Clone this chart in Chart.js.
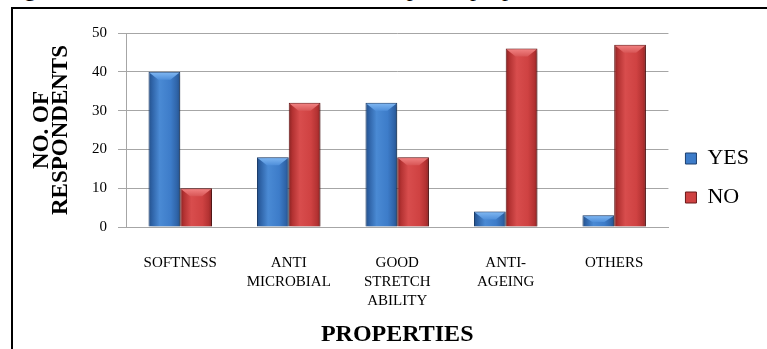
<!DOCTYPE html>
<html lang="en">
<head>
<meta charset="UTF-8">
<title>Properties - No. of respondents</title>
<script src="https://cdn.jsdelivr.net/npm/chart.js@4"></script>
<style>
  html, body { margin: 0; padding: 0; background: #fff; overflow: hidden; }
  .page { position: relative; width: 767px; height: 349px; overflow: hidden; }
  .caption {
    position: absolute; left: 4px; top: -25px;
    font: 24px/26px 'Liberation Serif', 'Times New Roman', serif;
    white-space: nowrap; color: #000;
  }
  .frame {
    position: absolute; left: 11px; top: 7px; width: 800px; height: 400px;
    border-left: 2px solid #000; border-top: 2px solid #000; pointer-events: none;
  }
  canvas { position: absolute; left: 0; top: 0; }
</style>
</head>
<body>
<div class="page">
  <div class="caption">Fig. 4 Whether the fabric has the natural special properties</div>
  <canvas id="chart" width="767" height="349"></canvas>
  <div class="frame"></div>
</div>
<script>
// survey answers per property
const categories = ['SOFTNESS', ['ANTI', 'MICROBIAL'], ['GOOD', 'STRETCH', 'ABILITY'], ['ANTI-', 'AGEING'], 'OTHERS'];
const yesValues = [40, 18, 32, 4, 3];
const noValues = [10, 32, 18, 46, 47];
const yTicks = [0, 10, 20, 30, 40, 50];

// shades for the rounded "cylinder" look
const BLUE = { edge: '#24508a', dark: '#2f64a8', mid: '#3d7cc9', light: '#4a8ad4', cap: '#7cb4f0', capLow: '#4f8fda', border: '#1d3f6e' };
const RED = { edge: '#8a2222', dark: '#b33232', mid: '#cf4242', light: '#d84d4d', cap: '#f08080', capLow: '#d85656', border: '#6a1818' };

Chart.defaults.font.family = "'Liberation Serif', 'Times New Roman', serif";
Chart.defaults.color = '#000';

function sideGradient(ctx, left, right, pal) {
  const g = ctx.createLinearGradient(left, 0, right, 0);
  g.addColorStop(0, pal.edge);
  g.addColorStop(0.12, pal.dark);
  g.addColorStop(0.35, pal.light);
  g.addColorStop(0.7, pal.mid);
  g.addColorStop(0.9, pal.dark);
  g.addColorStop(1, pal.edge);
  return g;
}

// paints gradients, drop shadow and the bevelled top of each bar
const barShading = {
  id: 'barShading',
  beforeDatasetsDraw(chart) {
    const ctx = chart.ctx;
    chart.data.datasets.forEach((ds, i) => {
      chart.getDatasetMeta(i).data.forEach(bar => {
        const half = bar.width / 2;
        bar.options.backgroundColor = sideGradient(ctx, bar.x - half, bar.x + half, ds.palette);
      });
    });
    ctx.save();
    ctx.shadowColor = 'rgba(0,0,0,0.35)';
    ctx.shadowBlur = 4;
    ctx.shadowOffsetX = 2;
    ctx.shadowOffsetY = 1;
  },
  afterDatasetsDraw(chart) {
    const ctx = chart.ctx;
    ctx.restore();
    chart.data.datasets.forEach((ds, i) => {
      const pal = ds.palette;
      chart.getDatasetMeta(i).data.forEach(bar => {
        const left = bar.x - bar.width / 2 + 1;
        const right = bar.x + bar.width / 2 - 1;
        const top = bar.y + 1;
        const depth = Math.min(7, (bar.base - bar.y) / 2);
        const inset = bar.width * 0.28;
        const g = ctx.createLinearGradient(0, top, 0, top + depth);
        g.addColorStop(0, pal.cap);
        g.addColorStop(1, pal.capLow);
        ctx.save();
        ctx.beginPath();
        ctx.moveTo(left, top);
        ctx.lineTo(right, top);
        ctx.lineTo(right - inset, top + depth);
        ctx.lineTo(left + inset, top + depth);
        ctx.closePath();
        ctx.fillStyle = g;
        ctx.fill();
        ctx.restore();
      });
    });
  }
};

new Chart(document.getElementById('chart'), {
  type: 'bar',
  data: {
    labels: categories,
    datasets: [
      {
        label: 'YES',
        data: yesValues,
        palette: BLUE,
        backgroundColor: () => BLUE.mid,
        borderColor: BLUE.border,
        borderWidth: 1
      },
      {
        label: 'NO',
        data: noValues,
        palette: RED,
        backgroundColor: () => RED.mid,
        borderColor: RED.border,
        borderWidth: 1
      }
    ]
  },
  options: {
    responsive: false,
    animation: false,
    events: [],
    layout: { padding: { top: 33, left: 12, right: 8, bottom: 26 } },
    datasets: { bar: { barPercentage: 1, categoryPercentage: 0.585 } },
    plugins: {
      legend: {
        position: 'right',
        labels: { boxWidth: 11, boxHeight: 11, padding: 17, color: '#000', font: { size: 22 } }
      },
      tooltip: { enabled: false }
    },
    scales: {
      x: {
        grid: { display: false },
        border: { display: true, color: '#a6a6a6' },
        ticks: { color: '#000', font: { size: 15, lineHeight: 19 / 15 }, padding: 19, maxRotation: 0, autoSkip: false },
        title: {
          display: true, text: 'PROPERTIES', color: '#000',
          font: { size: 24, weight: 'bold', lineHeight: 1 },
          padding: { top: 0, bottom: -24 }
        },
        afterFit: s => { s.height = 96; }
      },
      y: {
        min: 0,
        max: 50,
        afterBuildTicks: s => { s.ticks = yTicks.map(v => ({ value: v })); },
        grid: { color: '#a6a6a6', tickLength: 8 },
        border: { color: '#a6a6a6' },
        ticks: { color: '#000', font: { size: 15 }, padding: 11 },
        title: {
          display: true, text: ['NO. OF', 'RESPONDENTS'], color: '#000',
          font: { size: 23, weight: 'bold', lineHeight: 19 / 23 },
          padding: { top: 21, bottom: 0 }
        },
        afterFit: s => { s.width = 114; }
      }
    }
  },
  plugins: [barShading]
});
</script>
</body>
</html>
